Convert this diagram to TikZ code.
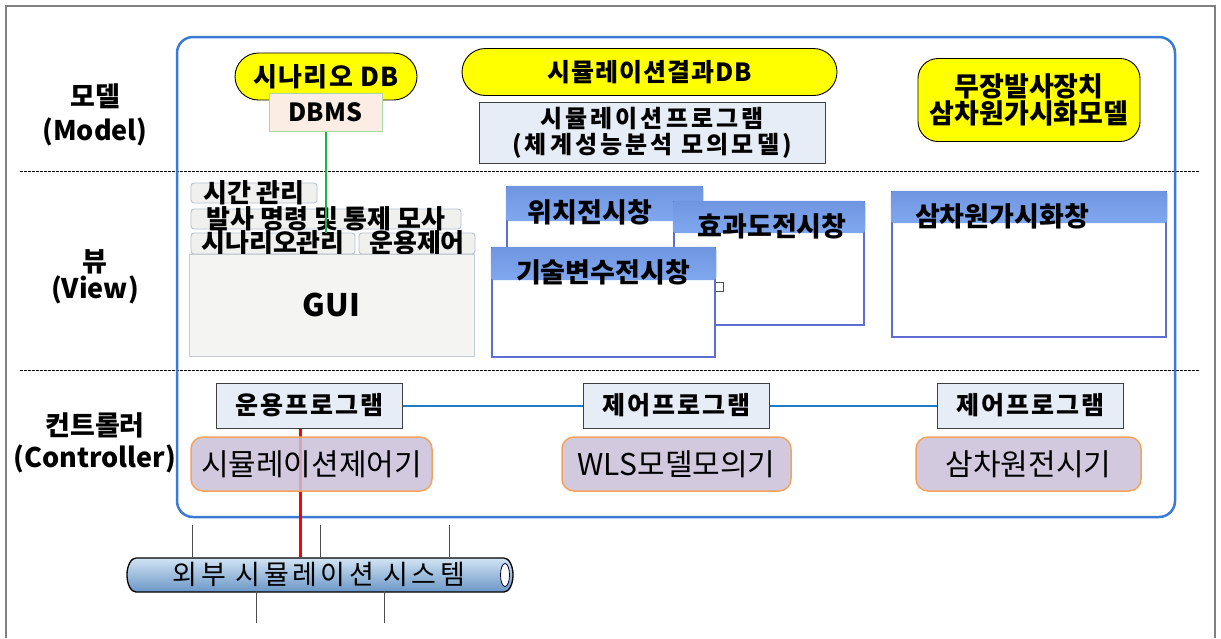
\documentclass[tikz,border=0pt]{standalone}
\usepackage{fontspec}
\setmainfont{Noto Sans CJK KR}
\usetikzlibrary{shapes.geometric}
\definecolor{ylw}{HTML}{FFFF00}
\definecolor{dbmsfill}{HTML}{FCEDE4}
\definecolor{dbmsdraw}{HTML}{A8D8A8}
\definecolor{progfill}{HTML}{E7EDF7}
\definecolor{progdraw}{HTML}{404040}
\definecolor{ctlfill}{HTML}{CCC0DA}
\definecolor{ctldraw}{HTML}{F5A35A}
\definecolor{mainblue}{HTML}{3A7BD5}
\definecolor{linkblue}{HTML}{1E7BC4}
\definecolor{grn}{HTML}{1DB14B}
\definecolor{winbd}{HTML}{5F6CD2}
\definecolor{headtop}{HTML}{6F95E0}
\definecolor{headbot}{HTML}{80A8EF}
\definecolor{tabfill}{HTML}{F0F0EE}
\definecolor{tabbd}{HTML}{B5C2CF}
\definecolor{guifill}{HTML}{F4F4F2}
\definecolor{guibd}{HTML}{C4CCD4}
\definecolor{pipetop}{HTML}{D2E4F4}
\definecolor{pipebot}{HTML}{6A96C6}
\definecolor{framegray}{HTML}{808080}
\newcommand\fsz[2]{\fontsize{#1}{#2}\selectfont}
\begin{document}
\begin{tikzpicture}[x=1pt,y=-1pt,
  lbl/.style={font=\fsz{27}{29}\bfseries, inner sep=0},
  ypill/.style={draw=black, line width=0.9, fill=ylw, inner sep=0},
  dbmsbox/.style={draw=dbmsdraw, line width=1, fill=dbmsfill, inner sep=0},
  progbox/.style={draw=progdraw, line width=1, fill=progfill, inner sep=0},
  progtext/.style={font={\fsz{25}{27}\bfseries\addfontfeatures{LetterSpace=8}}},
  ctlbox/.style={draw=ctldraw, line width=1.5, fill=ctlfill, fill opacity=0.85, text opacity=1, rounded corners=12, inner sep=0, font=\fsz{30}{32}},
  tabshape/.style={draw=tabbd, line width=0.9, fill=tabfill, rounded corners=3},
  tabtext/.style={inner sep=0, font=\fsz{26}{27}\bfseries},
  win/.style={draw=winbd, line width=2.5, fill=white},
  winhead/.style={top color=headtop, bottom color=headbot, rounded corners=3},
  wintitle/.style={inner sep=0, font=\fsz{27}{29}\bfseries},
  dashsep/.style={line width=1, dash pattern=on 2.5pt off 1.5pt},
  stub/.style={draw=black!70, line width=1},
]
\useasboundingbox (0,0) rectangle (1221,638);
\fill[white] (0,0) rectangle (1221,638);
\draw[framegray, line width=1.5] (6,638) -- (6,6) -- (1215,6) -- (1215,638);

% separators
\draw[dashsep] (20,171) -- (1200,171);
\draw[dashsep] (20,370) -- (1200,370);

% left labels
\node[lbl] (lm1) at (95,96) {모델};
\node[lbl] (lm2) at (95,132) {(Model)};
\node[lbl] (lv1) at (95,262) {뷰};
\node[lbl] (lv2) at (95,290) {(View)};
\node[lbl] (lc1) at (95,425) {컨트롤러};
\node[lbl] (lc2) at (95,459) {(Controller)};

% main box
\draw[mainblue, line width=2.5, rounded corners=16] (177,37) rectangle (1175,517);

% ---- model row
\node[ypill, minimum width=182, minimum height=47, rounded corners=23.5,
      font={\fsz{26}{28}\bfseries\addfontfeatures{LetterSpace=5}}] (scen) at (326,76.5) {시나리오 DB};
\node[dbmsbox, minimum width=113, minimum height=38, font=\fsz{25}{27}\bfseries] (dbms) at (325.5,112) {DBMS};
\node[ypill, minimum width=375, minimum height=47, rounded corners=23.5,
      font={\fsz{25}{27}\bfseries\addfontfeatures{LetterSpace=4}}] (resdb) at (649.5,72) {시뮬레이션결과DB};
\node[progbox, minimum width=346, minimum height=61, align=center,
      font={\fsz{24}{26}\bfseries\addfontfeatures{LetterSpace=13}}] (simprog) at (652,132.5) {시뮬레이션프로그램\\(체계성능분석 모의모델)};
\node[ypill, minimum width=222, minimum height=83, rounded corners=20, align=center,
      font={\fsz{27}{27}\bfseries}] (m3d) at (1029,100) {무장발사장치\\삼차원가시화모델};

% ---- view row: GUI with tabs
\draw[tabshape] (191,183) rectangle (317,203);
\node[tabtext] (tab1) at (254,193) {시간 관리};
\draw[tabshape] (191,209) rectangle (461,229);
\node[tabtext] (tab2) at (326,219) {발사 명령 및 통제 모사};
\draw[tabshape] (191,233) rectangle (355,254);
\node[tabtext] (tab3) at (273,243) {시나리오관리};
\draw[tabshape] (359,233) rectangle (475,254);
\node[tabtext] (tab4) at (417,243) {운용제어};
\node[draw=guibd, line width=1, fill=guifill, minimum width=285, minimum height=102, inner sep=0,
      font=\fsz{31}{33}\bfseries] (gui) at (331.5,305) {GUI};
\coordinate (gend) at (326,233);
\draw[grn, line width=2] (dbms.south) -- (dbms.south |- gend);

% windows
\draw[win] (507,187) rectangle (702,320);
\shade[winhead] (505.75,185.75) rectangle (703.25,221);
\node[wintitle] (w1) at (590,212) {위치전시창};
\draw[win] (674,202) rectangle (864,325);
\shade[winhead] (672.75,200.75) rectangle (865.25,233);
\node[wintitle] (w2) at (772,226) {효과도전시창};
\draw[black!70, line width=0.8] (715,282) rectangle (723,291);
\draw[win] (492,248) rectangle (715,357);
\shade[winhead] (490.75,246.75) rectangle (716.25,280);
\node[wintitle] (w3) at (603,272) {기술변수전시창};
\draw[win] (892,192) rectangle (1166,337);
\shade[winhead] (890.75,190.75) rectangle (1167.25,223);
\node[wintitle] (w4) at (1002,216) {삼차원가시화창};

% ---- controller row
\node[progbox, progtext, minimum width=186, minimum height=45] (prog1) at (309,405.5) {운용프로그램};
\node[progbox, progtext, minimum width=186, minimum height=45] (prog2) at (676,405.5) {제어프로그램};
\node[progbox, progtext, minimum width=186, minimum height=45] (prog3) at (1030,405.5) {제어프로그램};
\draw[linkblue, line width=2] (prog1) -- (prog2);
\draw[linkblue, line width=2] (prog2) -- (prog3);

% pipe
\shadedraw[top color=pipetop, bottom color=pipebot, draw=black, line width=1.3]
  (136,558) -- (504,558) arc[start angle=-90, end angle=90, x radius=9, y radius=17]
  -- (136,592) arc[start angle=90, end angle=270, x radius=9, y radius=17] -- cycle;
\draw[fill=white, draw=black!80!blue, line width=0.8] (505,575) ellipse[x radius=4.5, y radius=11.5];
\node[inner sep=0, minimum width=386, minimum height=34, font={\fsz{27}{29}\addfontfeatures{LetterSpace=13}}] (pipe) at (319,574) {외부 시뮬레이션 시스템};

\coordinate (rx) at (300,0);
\draw[red, line width=3] (prog1.south -| rx) -- (pipe.north -| rx);

\node[ctlbox, minimum width=241, minimum height=54] (ctl1) at (311.5,464) {시뮬레이션제어기};
\node[ctlbox, minimum width=229, minimum height=54] (ctl2) at (676.5,464) {WLS모델모의기};
\node[ctlbox, minimum width=225, minimum height=54] (ctl3) at (1028.5,464) {삼차원전시기};

% stubs on the pipe
\coordinate (s1) at (192,525);
\coordinate (s2) at (320,525);
\coordinate (s3) at (449,525);
\coordinate (s4) at (256,623);
\coordinate (s5) at (384,623);
\draw[stub] (s1) -- (s1 |- pipe.north);
\draw[stub] (s2) -- (s2 |- pipe.north);
\draw[stub] (s3) -- (s3 |- pipe.north);
\draw[stub] (s4 |- pipe.south) -- (s4);
\draw[stub] (s5 |- pipe.south) -- (s5);
\end{tikzpicture}
\end{document}
